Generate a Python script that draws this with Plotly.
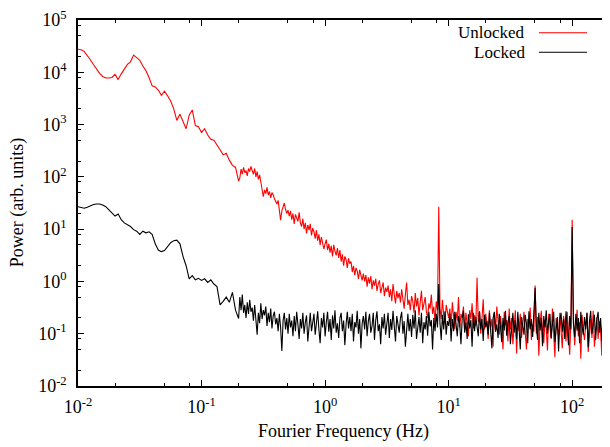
import plotly.graph_objects as go

# ---- data (log10 units) ----
# Fourier frequency grid, log10(Hz): low-frequency (smooth) part
FREQ_LOG10_LOW = [
    -2.000, -1.975, -1.950, -1.925, -1.900, -1.875, -1.850, -1.825, -1.800, -1.775,
    -1.750, -1.725, -1.700, -1.675, -1.650, -1.625, -1.600, -1.575, -1.550, -1.525,
    -1.500, -1.475, -1.450, -1.425, -1.400, -1.375, -1.350, -1.325, -1.300, -1.275,
    -1.250, -1.225, -1.200, -1.175, -1.150, -1.125, -1.100, -1.075, -1.050, -1.025,
    -1.000, -0.975, -0.950, -0.925, -0.900, -0.875, -0.850, -0.825, -0.800, -0.775,
    -0.750, -0.725, -0.700,
]
# Fourier frequency grid, log10(Hz): high-frequency (noisy) part
FREQ_LOG10_HIGH = [
    -0.69, -0.68, -0.67, -0.66, -0.65, -0.64, -0.63, -0.62, -0.61, -0.60,
    -0.59, -0.58, -0.57, -0.56, -0.55, -0.54, -0.53, -0.52, -0.51, -0.50,
    -0.49, -0.48, -0.47, -0.46, -0.45, -0.44, -0.43, -0.42, -0.41, -0.40,
    -0.39, -0.38, -0.37, -0.36, -0.35, -0.34, -0.33, -0.32, -0.31, -0.30,
    -0.29, -0.28, -0.27, -0.26, -0.25, -0.24, -0.23, -0.22, -0.21, -0.20,
    -0.19, -0.18, -0.17, -0.16, -0.15, -0.14, -0.13, -0.12, -0.11, -0.10,
    -0.09, -0.08, -0.07, -0.06, -0.05, -0.04, -0.03, -0.02, -0.01, 0.00,
    0.01, 0.02, 0.03, 0.04, 0.05, 0.06, 0.07, 0.08, 0.09, 0.10,
    0.11, 0.12, 0.13, 0.14, 0.15, 0.16, 0.17, 0.18, 0.19, 0.20,
    0.21, 0.22, 0.23, 0.24, 0.25, 0.26, 0.27, 0.28, 0.29, 0.30,
    0.31, 0.32, 0.33, 0.34, 0.35, 0.36, 0.37, 0.38, 0.39, 0.40,
    0.41, 0.42, 0.43, 0.44, 0.45, 0.46, 0.47, 0.48, 0.49, 0.50,
    0.51, 0.52, 0.53, 0.54, 0.55, 0.56, 0.57, 0.58, 0.59, 0.60,
    0.61, 0.62, 0.63, 0.64, 0.65, 0.66, 0.67, 0.68, 0.69, 0.70,
    0.71, 0.72, 0.73, 0.74, 0.75, 0.76, 0.77, 0.78, 0.79, 0.80,
    0.81, 0.82, 0.83, 0.84, 0.85, 0.86, 0.87, 0.88, 0.89, 0.90,
    0.91, 0.92, 0.93, 0.94, 0.95, 0.96, 0.97, 0.98, 0.99, 1.00,
    1.01, 1.02, 1.03, 1.04, 1.05, 1.06, 1.07, 1.08, 1.09, 1.10,
    1.11, 1.12, 1.13, 1.14, 1.15, 1.16, 1.17, 1.18, 1.19, 1.20,
    1.21, 1.22, 1.23, 1.24, 1.25, 1.26, 1.27, 1.28, 1.29, 1.30,
    1.31, 1.32, 1.33, 1.34, 1.35, 1.36, 1.37, 1.38, 1.39, 1.40,
    1.41, 1.42, 1.43, 1.44, 1.45, 1.46, 1.47, 1.48, 1.49, 1.50,
    1.51, 1.52, 1.53, 1.54, 1.55, 1.56, 1.57, 1.58, 1.59, 1.60,
    1.61, 1.62, 1.63, 1.64, 1.65, 1.66, 1.67, 1.68, 1.69, 1.70,
    1.71, 1.72, 1.73, 1.74, 1.75, 1.76, 1.77, 1.78, 1.79, 1.80,
    1.81, 1.82, 1.83, 1.84, 1.85, 1.86, 1.87, 1.88, 1.89, 1.90,
    1.91, 1.92, 1.93, 1.94, 1.95, 1.96, 1.97, 1.98, 1.99, 2.00,
    2.01, 2.02, 2.03, 2.04, 2.05, 2.06, 2.07, 2.08, 2.09, 2.10,
    2.11, 2.12, 2.13, 2.14, 2.15, 2.16, 2.17, 2.18, 2.19, 2.20,
    2.21, 2.22, 2.23, 2.24, 2.25, 2.26, 2.27, 2.28, 2.29, 2.30,
]

# Unlocked power, log10(arb. units)
UNLOCKED_LOG10_LOW = [
    4.44, 4.43, 4.40, 4.33, 4.24, 4.15, 4.06, 3.98, 3.92, 3.89,
    3.89, 3.90, 3.96, 3.86, 3.97, 4.05, 4.15, 4.20, 4.33, 4.28,
    4.23, 4.12, 4.03, 3.90, 3.74, 3.72, 3.66, 3.56, 3.64, 3.55,
    3.45, 3.30, 3.08, 3.20, 3.05, 2.92, 3.18, 3.28, 2.98, 2.96,
    2.85, 2.92, 2.80, 2.72, 2.70, 2.62, 2.52, 2.42, 2.45, 2.32,
    2.22, 2.18, 1.92,
]
UNLOCKED_LOG10_HIGH = [
    1.98, 2.15, 2.05, 2.18, 2.08, 2.12, 2.02, 2.16, 2.10, 2.20,
    2.12, 2.05, 2.16, 2.00, 2.10, 1.95, 2.04, 1.88, 1.70, 1.62,
    1.75, 1.68, 1.80, 1.65, 1.72, 1.60, 1.70, 1.66, 1.58, 1.52,
    1.48, 1.55, 1.40, 1.17, 1.35, 1.42, 1.50, 1.38, 1.30, 1.36,
    1.25, 1.35, 1.18, 1.30, 1.10, 1.28, 1.20, 1.15, 1.32, 1.12,
    1.05, 1.20, 1.00, 1.12, 0.92, 1.08, 0.98, 1.10, 0.88, 1.02,
    0.95, 0.82, 0.98, 0.78, 0.90, 0.70, 0.85, 0.76, 0.62, 0.72,
    0.80, 0.60, 0.72, 0.55, 0.68, 0.48, 0.70, 0.58, 0.50, 0.64,
    0.45, 0.60, 0.38, 0.52, 0.30, 0.48, 0.42, 0.26, 0.44, 0.34,
    0.38, 0.18, 0.30, 0.12, 0.26, 0.20, 0.05, 0.22, 0.14, 0.02,
    0.15, 0.00, 0.12, -0.10, 0.08, -0.04, 0.10, -0.15, 0.02, -0.08,
    0.05, -0.18, -0.05, 0.02, -0.22, -0.10, -0.02, -0.28, -0.12, -0.20,
    -0.08, -0.30, -0.15, -0.38, -0.05, -0.25, -0.42, -0.18, -0.32, -0.22,
    -0.40, -0.15, -0.30, -0.52, -0.25, -0.02, -0.45, -0.35, -0.55, -0.28,
    -0.38, -0.60, -0.22, -0.48, -0.32, -0.65, -0.40, -0.18, -0.55, -0.44,
    -0.30, -0.58, -0.70, -0.42, -0.52, -0.25, -0.62, -0.48, -0.78, -0.38,
    -0.55, 1.43, -0.50, -0.72, -0.35, -0.64, -0.82, -0.45, -0.60, -0.70,
    -0.52, -0.85, -0.40, -0.68, -0.92, -0.58, -0.75, -0.30, -0.88, -0.62,
    -0.70, -0.48, -0.95, -0.60, -0.80, -1.05, -0.55, -0.72, -0.42, -0.90,
    -0.65, -0.85, 0.07, -0.78, -0.58, -1.00, -0.70, -0.34, -0.92, -0.62,
    -0.80, -1.10, -0.55, -0.88, -0.72, -1.25, -0.60, -0.95, -0.48, -0.82,
    -1.02, -0.66, -0.90, -1.30, -0.58, -0.84, -0.74, -1.15, -0.52, -0.92,
    -0.70, -1.20, -0.85, -0.55, -1.38, -0.78, -0.95, -0.62, -1.08, -0.80,
    -0.58, -0.98, -1.30, -0.72, -0.88, -0.50, -1.12, -0.82, -0.96, -0.08,
    -1.00, -0.68, -1.42, -0.80, -0.56, -0.94, -1.18, -0.74, -0.90, -1.32,
    -0.62, -0.86, -1.10, -0.52, -0.96, -1.45, -0.70, -0.84, -1.05, -0.60,
    -0.92, -1.28, -0.66, -0.80, -1.15, -0.58, -0.98, -1.40, -0.74, 1.18,
    -0.70, -1.22, -0.88, -0.54, -1.05, -0.78, -1.48, -0.64, -0.94, -1.12,
    -0.82, -0.60, -1.35, -0.90, -0.72, -1.08, -0.56, -1.25, -0.86, -0.68,
    -1.10, -0.76, -0.95, -1.42, -0.62, -0.88, -1.20, -0.70, -1.02, -0.80,
]

# Locked power, log10(arb. units)
LOCKED_LOG10_LOW = [
    1.43, 1.41, 1.40, 1.42, 1.45, 1.47, 1.48, 1.48, 1.46, 1.43,
    1.37, 1.30, 1.25, 1.29, 1.18, 1.12, 1.09, 1.05, 0.99, 0.96,
    0.90, 0.96, 0.93, 0.95, 0.90, 0.72, 0.60, 0.57, 0.59, 0.66,
    0.74, 0.78, 0.79, 0.72, 0.48, 0.30, 0.05, 0.11, 0.03, 0.06,
    0.02, 0.05, -0.02, 0.03, -0.05, -0.10, -0.45, -0.38, -0.30, -0.40,
    -0.21, -0.55, -0.71,
]
LOCKED_LOG10_HIGH = [
    -0.30, -0.55, -0.25, -0.60, -0.45, -0.70, -0.40, -0.62, -0.35, -0.58,
    -0.50, -0.75, -0.45, -0.68, -1.02, -0.60, -0.80, -0.42, -0.72, -0.55,
    -0.65, -0.48, -0.85, -0.60, -0.78, -0.52, -0.90, -0.66, -0.58, -0.82,
    -0.70, -0.95, -0.62, -0.88, -1.33, -0.75, -0.60, -0.92, -0.70, -1.00,
    -0.62, -0.88, -0.75, -1.05, -0.66, -0.95, -0.58, -0.82, -1.10, -0.72,
    -0.90, -0.60, -1.00, -0.78, -0.65, -1.15, -0.85, -0.60, -0.95, -0.75,
    -0.62, -1.02, -0.80, -0.57, -0.92, -1.18, -0.70, -0.88, -0.60, -1.05,
    -0.78, -0.58, -0.96, -0.72, -1.12, -0.65, -0.90, -0.55, -0.98, -0.80,
    -1.08, -0.70, -0.60, -0.95, -0.75, -1.22, -0.82, -0.58, -0.90, -0.68,
    -0.95, -0.62, -1.15, -0.78, -0.88, -0.56, -1.00, -0.72, -1.28, -0.80,
    -0.66, -0.92, -0.58, -1.05, -0.76, -0.62, -0.98, -0.85, -0.60, -1.12,
    -0.74, -0.57, -0.95, -0.82, -1.20, -0.68, -0.90, -0.62, -1.02, -0.78,
    -0.60, -1.08, -0.72, -0.93, -0.56, -0.86, -1.15, -0.66, -0.80, -0.98,
    -0.70, -0.58, -1.00, -0.76, -1.25, -0.84, -0.62, -0.95, -0.72, -1.06,
    -0.64, -0.90, -0.55, -1.10, -0.80, -0.68, -0.98, -0.60, -1.18, -0.78,
    -0.92, -0.66, -1.04, -0.58, -0.86, -0.74, -1.30, -0.70, -0.95, -0.62,
    -0.88, -0.05, -0.80, -1.12, -0.64, -0.92, -0.57, -1.02, -0.76, -0.85,
    -0.62, -1.15, -0.72, -0.95, -0.58, -0.88, -1.05, -0.66, -0.82, -1.20,
    -0.70, -0.56, -0.98, -0.78, -1.10, -0.63, -0.90, -0.74, -1.25, -0.60,
    -0.95, -0.68, -0.84, -1.05, -0.57, -0.92, -0.72, -1.14, -0.64, -0.88,
    -0.76, -1.02, -0.60, -0.90, -1.28, -0.70, -0.58, -0.96, -0.82, -1.08,
    -0.62, -0.88, -1.16, -0.70, -0.94, -0.56, -1.04, -0.78, -0.66, -1.20,
    -0.84, -0.60, -0.98, -0.74, -1.10, -0.58, -0.90, -1.30, -0.68, -0.86,
    -1.02, -0.64, -0.80, -1.18, -0.57, -0.92, -0.72, -1.06, -0.62, -0.12,
    -0.85, -1.12, -0.60, -0.94, -0.70, -1.24, -0.66, -0.88, -0.55, -1.00,
    -0.76, -0.62, -1.08, -0.82, -0.58, -1.16, -0.90, -0.68, -1.34, -0.74,
    -0.60, -0.96, -0.72, -1.10, -0.57, -0.88, -1.22, -0.66, -0.92, 1.04,
    -0.80, -1.06, -0.62, -0.94, -0.70, -1.18, -0.58, -0.86, -1.02, -0.68,
    -0.92, -0.60, -1.26, -0.76, -0.56, -1.00, -0.82, -0.64, -1.12, -0.72,
    -0.58, -0.98, -0.70, -1.14, -0.62, -0.90, -0.76, -1.04, -0.60, -0.88,
]

SERIES_NAMES = ["Unlocked", "Locked"]
SERIES_COLORS = ["#ff0000", "#000000"]
X_TICK_EXP = [-2, -1, 0, 1, 2]
Y_TICK_EXP = [-2, -1, 0, 1, 2, 3, 4, 5]
MINOR_MANTISSA = [2, 5, 8]

# ---- build ----
freq_log = FREQ_LOG10_LOW + FREQ_LOG10_HIGH
unl_log = UNLOCKED_LOG10_LOW + UNLOCKED_LOG10_HIGH
lock_log = LOCKED_LOG10_LOW + LOCKED_LOG10_HIGH
assert len(freq_log) == len(unl_log) == len(lock_log), (len(freq_log), len(unl_log), len(lock_log))

freq = [10 ** v for v in freq_log]
unlocked = [10 ** v for v in unl_log]
locked = [10 ** v for v in lock_log]

FONT = "Liberation Serif, Times New Roman, serif"
FS = 18
LEGEND_FS = 17

fig = go.Figure()
for name, color, yvals in zip(SERIES_NAMES, SERIES_COLORS, [unlocked, locked]):
    fig.add_trace(go.Scatter(x=freq, y=yvals, mode="lines", name=name,
                             line=dict(color=color, width=1.1), showlegend=False))

def exp_label(e):
    return "10<sup>%d</sup>" % e

def minor_vals(exps):
    out = []
    for e in range(min(exps) - 1, max(exps) + 1):
        for m in MINOR_MANTISSA:
            out.append(m * 10 ** e)
    return out

axis_common = dict(
    showline=True, linecolor="black", linewidth=1.5, mirror="ticks",
    ticks="inside", ticklen=6, tickwidth=1, tickcolor="black",
    showgrid=False, zeroline=False, ticklabeloverflow="allow",
    tickfont=dict(family=FONT, size=FS, color="black"),
)

fig.update_xaxes(type="log", range=[-2, 2.29],
                 tickmode="array",
                 tickvals=[10 ** e for e in X_TICK_EXP],
                 ticktext=[exp_label(e) for e in X_TICK_EXP],
                 minor=dict(tickmode="array", tickvals=minor_vals(X_TICK_EXP),
                            ticks="inside", ticklen=3, tickwidth=1, tickcolor="black"),
                 ticklabelstandoff=4,
                 **axis_common)
fig.update_yaxes(type="log", range=[-2, 5],
                 tickmode="array",
                 tickvals=[10 ** e for e in Y_TICK_EXP],
                 ticktext=[exp_label(e) for e in Y_TICK_EXP],
                 minor=dict(tickmode="array", tickvals=minor_vals(Y_TICK_EXP),
                            ticks="inside", ticklen=3, tickwidth=1, tickcolor="black"),
                 ticklabelstandoff=6,
                 **axis_common)

annotations = [
    dict(text="Fourier Frequency (Hz)", xref="paper", yref="paper", x=0.5, y=-0.123,
         xanchor="center", yanchor="middle", showarrow=False,
         font=dict(family=FONT, size=FS, color="black")),
    dict(text="Power (arb. units)", xref="paper", yref="paper", x=-0.1147, y=0.5,
         xanchor="center", yanchor="middle", textangle=-90, showarrow=False,
         font=dict(family=FONT, size=FS, color="black")),
]
legend_y = [0.9652, 0.9118]
shapes = []
for name, color, ly in zip(SERIES_NAMES, SERIES_COLORS, legend_y):
    annotations.append(dict(text=name, xref="paper", yref="paper", x=0.8477, y=ly,
                            xanchor="right", yanchor="middle", showarrow=False,
                            font=dict(family=FONT, size=LEGEND_FS, color="black")))
    shapes.append(dict(type="line", xref="paper", yref="paper", x0=0.8697, x1=0.9605,
                       y0=ly, y1=ly, line=dict(color=color, width=1)))

# the page body adds an 8 px offset, so the figure is 8 px smaller and margins shifted
fig.update_layout(
    width=602, height=439,
    margin=dict(l=70, r=0, t=4, b=61),
    paper_bgcolor="white", plot_bgcolor="white",
    annotations=annotations, shapes=shapes,
    font=dict(family=FONT, size=FS, color="black"),
)

fig.write_html("out.html")
